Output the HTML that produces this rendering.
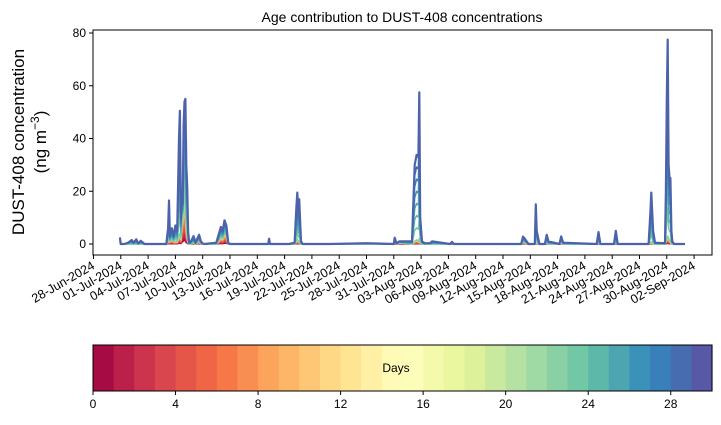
<!DOCTYPE html>
<html><head><meta charset="utf-8">
<style>
body{margin:0;background:#fff;}
svg{display:block;font-family:"Liberation Sans","DejaVu Sans",sans-serif;}
</style></head>
<body>
<svg id="chart" width="721" height="425" viewBox="0 0 721 425" xmlns="http://www.w3.org/2000/svg">
<g id="plot"></g>
<g id="cbar"></g>
</svg>
<script>
// ---- data ----
const days = [2.9,3.0,3.4,3.8,4.2,4.4,4.7,4.9,5.2,5.6,5.9,6.2,8.0,8.2,8.3,8.4,8.6,8.8,9.0,9.2,9.4,9.5,9.6,9.7,9.8,9.9,10.0,10.1,10.2,10.3,10.4,10.5,10.7,11.0,11.2,11.4,11.6,11.8,12.0,12.2,13.5,14.0,14.2,14.4,14.6,14.8,15.0,17.0,19.2,19.3,19.4,21.5,22.1,22.3,22.4,22.5,22.6,22.8,23.0,24.0,26.0,30.0,33.0,33.1,33.3,33.6,35.0,35.3,35.5,35.7,35.8,35.9,36.1,36.4,37.0,37.2,39.2,39.4,39.6,47.0,47.2,47.4,47.8,48.5,48.6,48.7,49.0,49.6,49.8,50.0,51.2,51.4,51.6,55.3,55.5,55.7,57.2,57.4,57.6,61.0,61.2,61.3,61.5,61.7,62.8,62.9,63.0,63.1,63.2,63.3,63.4,63.5,63.6,63.8,65.0];
const totals = [2.5,0,0,0.5,1.5,0.5,1.8,0.2,1.2,0,0,0,0,6,16.5,3,6,3,7,5,40,50.5,10,20,15,45,54,55,30,22,5,0.5,1,3,0.5,2,3.5,1,0.2,0,0.5,6.5,5,9,7,0.5,0,0,0,2,0,0,0.5,14,19.5,12,17,1,0,0,0,0.3,0,2.4,0.3,1,1,30,33.8,33,57.5,10,1,0.3,0.3,1,0,0.8,0,0,2.8,2,0,0,15,5,0,0,3.5,1,0,2.9,0.5,0,4.5,0,0,5,0,0,12,19.5,5,0.5,0.3,20,55,77.5,30,25,25,5,1,0,0];
const young = [0,0,0,0,0,0,0,0,0,0,0,0,0,1,2,1,2,1,1,1,3,4,2,8,10,15,24,12,6,3,1,0,0,0.5,0,0.5,1,0.3,0,0,0,2.5,2,4,3,0,0,0,0,0,0,0,0,1,2,1,1,0,0,0,0,0,0,0.5,0,0.5,0,1,1.5,1,2,0.5,0,0,0,0,0,0.3,0,0,1,0.5,0,0,0.5,0.5,0,0,0.5,0,0,0.8,0,0,0.3,0,0,0.5,0,0,0.5,0.8,0,0,0,1,2,3,2,1.5,1,0,0,0,0];
const yTicks = [0,20,40,60,80];
const dateLabels = ["28-Jun-2024","01-Jul-2024","04-Jul-2024","07-Jul-2024","10-Jul-2024","13-Jul-2024","16-Jul-2024","19-Jul-2024","22-Jul-2024","25-Jul-2024","28-Jul-2024","31-Jul-2024","03-Aug-2024","06-Aug-2024","09-Aug-2024","12-Aug-2024","15-Aug-2024","18-Aug-2024","21-Aug-2024","24-Aug-2024","27-Aug-2024","30-Aug-2024","02-Sep-2024"];
const cbTicks = [0,4,8,12,16,20,24,28];
const spectral = ["#9e0142","#d53e4f","#f46d43","#fdae61","#fee08b","#ffffbf","#e6f598","#abdda4","#66c2a5","#3288bd","#5e4fa2"];

const NS="http://www.w3.org/2000/svg";
const L=93,R=712,T=30,B=255;
const xS=d=>93.5+d*9.1;
const yS=v=>244-v*(211/80);
function mk(p,tag,attrs){const e=document.createElementNS(NS,tag);for(const k in attrs)e.setAttribute(k,attrs[k]);p.appendChild(e);return e;}
function hex(h){return [1,3,5].map(i=>parseInt(h.substr(i,2),16));}
function cmap(t){const s=t*(spectral.length-1);const i=Math.min(Math.floor(s),spectral.length-2);const f=s-i;const a=hex(spectral[i]),b=hex(spectral[i+1]);return `rgb(${a.map((v,j)=>Math.round(v+(b[j]-v)*f)).join(",")})`;}

const plot=document.getElementById('plot');
for(let k=0;k<30;k++){
  const pts=days.map((d,i)=>{const y0=young[i];const rest=totals[i]-y0;
    const v=y0*(k<12?(k+1)/12:1)+rest*Math.max(0,(k-22)/7);return xS(d).toFixed(1)+","+yS(Math.min(v,totals[i])).toFixed(1);}).join(" ");
  const col=k==29?'#4c62ab':cmap((k+0.5)/30);
  const pl=mk(plot,'polyline',{points:pts,fill:'none',stroke:col,'stroke-width':k==29?2.2:1.5,'stroke-linejoin':'round'});
  
  
}
const fr=mk(plot,'rect',{x:L,y:T,width:R-L,height:B-T,fill:'none',stroke:'#000','stroke-width':1});

yTicks.forEach(v=>{const y=yS(v);
  mk(plot,'line',{x1:L-4,x2:L,y1:y,y2:y,stroke:'#000'});
  const t=mk(plot,'text',{x:L-7,y:y+4,'text-anchor':'end','font-size':12});t.textContent=v;
  });
dateLabels.forEach((s,i)=>{const x=xS(i*3);
  mk(plot,'line',{x1:x,x2:x,y1:B,y2:B+4,stroke:'#000'});
  const t=mk(plot,'text',{x:x+2,y:B+13,'text-anchor':'end','font-size':12.5,transform:`rotate(-30 ${x+2} ${B+13})`});t.textContent=s;
  });
const ti=mk(plot,'text',{x:402,y:22,'text-anchor':'middle','font-size':14});ti.textContent="Age contribution to DUST-408 concentrations";

const yl=mk(plot,'text',{x:0,y:0,'text-anchor':'middle','font-size':17,transform:'translate(24,142) rotate(-90)'});yl.textContent="DUST-408 concentration";

const yl2=mk(plot,'text',{x:0,y:0,'text-anchor':'middle','font-size':17,transform:'translate(46,142) rotate(-90)'});yl2.innerHTML='(ng m<tspan dy="-7" font-size="12">−3</tspan><tspan dy="7">)</tspan>';


const cb=document.getElementById('cbar');
const cL=93,cR=712,cT=345,cB=391,cw=(cR-cL)/30;
for(let k=0;k<30;k++){
  const r=mk(cb,'rect',{x:cL+k*cw,y:cT,width:cw+0.6,height:cB-cT,fill:cmap((k+0.5)/30)});
  
}
mk(cb,'rect',{x:cL,y:cT,width:cR-cL,height:cB-cT,fill:'none',stroke:'#000'});
cbTicks.forEach(v=>{const x=cL+v*cw;
  mk(cb,'line',{x1:x,x2:x,y1:cB,y2:cB+4,stroke:'#000'});
  const t=mk(cb,'text',{x:x,y:cB+17,'text-anchor':'middle','font-size':12});t.textContent=v;
  });
const dl=mk(cb,'text',{x:396,y:372,'text-anchor':'middle','font-size':12});dl.textContent="Days";

</script>
</body></html>
